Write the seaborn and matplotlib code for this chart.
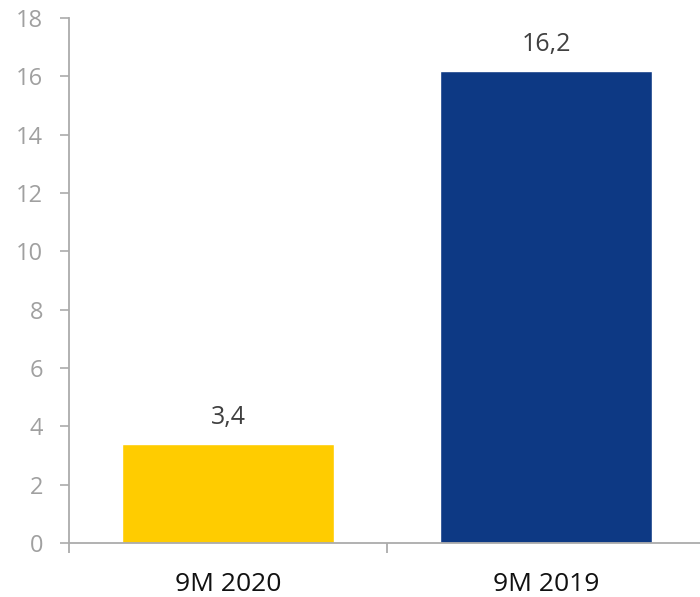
import matplotlib
matplotlib.use("Agg")
import matplotlib.pyplot as plt
import seaborn as sns
import pandas as pd

periods = ["9M 2020", "9M 2019"]
values = [3.4, 16.2]
value_labels = ["3,4", "16,2"]
bar_colors = ["#FFCC00", "#0D3984"]
y_ticks = [0, 2, 4, 6, 8, 10, 12, 14, 16, 18]

sns.set_theme(style="white")
plt.rcParams["font.family"] = ["Open Sans", "DejaVu Sans"]

df = pd.DataFrame({"period": periods, "value": values})

fig = plt.figure(figsize=(7.0, 5.97), dpi=100)
ax = fig.add_axes([69 / 700, 54 / 597, 636 / 700, 525 / 597])

sns.barplot(data=df, x="period", y="value", hue="period",
            palette=bar_colors, order=periods, hue_order=periods,
            width=0.667, saturation=1, legend=False, ax=ax)

for patch, lab in zip(ax.patches, value_labels):
    ax.annotate(lab, (patch.get_x() + patch.get_width() / 2, patch.get_height()),
                xytext=(0, 19), textcoords="offset points",
                ha="center", va="center", fontsize=18, color="#404040")

ax.set_xlim(-0.5, 1.5)
ax.set_ylim(0, 18)
ax.set_yticks(y_ticks)
ax.set_yticklabels([str(t) for t in y_ticks])
ax.set_xlabel("")
ax.set_ylabel("")

spine_color = "#ABABAB"
for side in ["top", "right"]:
    ax.spines[side].set_visible(False)
for side in ["left", "bottom"]:
    ax.spines[side].set_color(spine_color)
    ax.spines[side].set_linewidth(1.3)

ax.tick_params(axis="y", which="major", direction="out", length=6.5, width=1.2,
               color=spine_color, labelcolor="#A0A0A0", labelsize=17, pad=12, left=True)
ax.set_xticks([-0.5, 0.5, 1.5], minor=True)
ax.tick_params(axis="x", which="minor", direction="out", length=7, width=1.3,
               color=spine_color, bottom=True)
ax.tick_params(axis="x", which="major", length=0, labelsize=19,
               labelcolor="#111111", pad=21)

fig.savefig("out.png", dpi=100)
